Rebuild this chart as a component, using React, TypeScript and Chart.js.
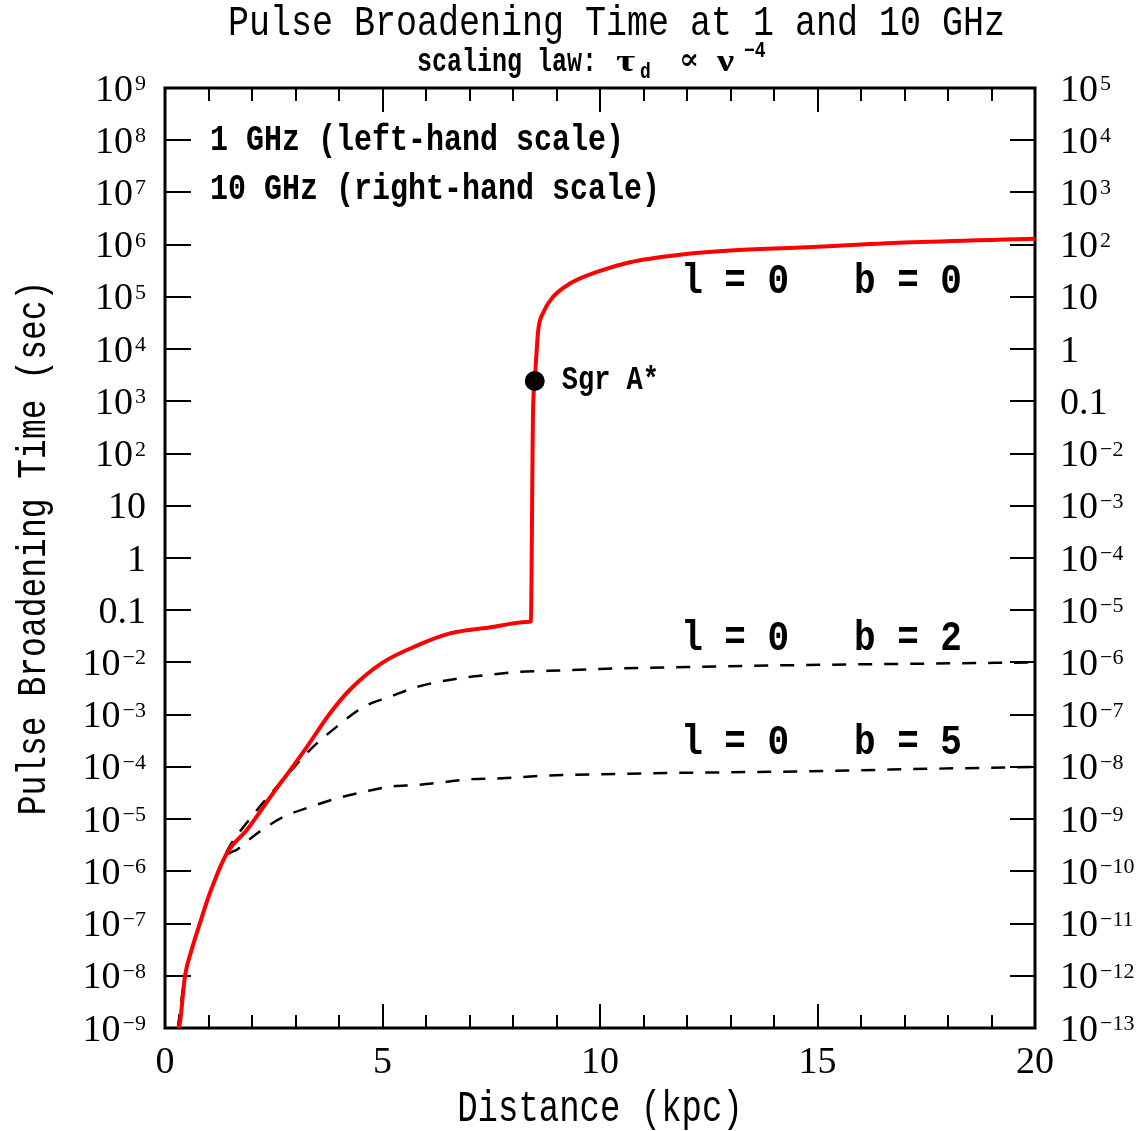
import React, { useEffect, useRef } from "react";
import { Chart, registerables } from "chart.js";

Chart.register(...registerables);

// ---- data (distance in kpc, pulse broadening time in seconds at 1 GHz) ----
const distB0 = [0.30, 0.34, 0.46, 0.61, 0.80, 1.03, 1.42, 1.88, 2.48, 2.87, 3.26, 3.79, 4.25, 5.01, 5.79, 6.55, 7.31, 8.39, 8.41, 8.46, 8.50, 8.53, 8.58, 8.69, 8.92, 9.31, 9.93, 10.69, 11.84, 13.0, 14.6, 17.0, 20.0];
const tauB0 = [1e-9, 1.2e-9, 1.0e-8, 3.1e-8, 1.0e-7, 3.8e-7, 2.2e-6, 6.2e-6, 3.1e-5, 8.5e-5, 2.4e-4, 1.05e-3, 3.0e-3, 1.0e-2, 2.1e-2, 3.6e-2, 4.5e-2, 6.0e-2, 6.2e-2, 6.0e2, 2.45e3, 6.2e3, 2.3e4, 4.9e4, 1.0e5, 1.8e5, 3.0e5, 4.6e5, 6.4e5, 7.7e5, 8.8e5, 1.1e6, 1.3e6];

const distB2 = [0.30, 0.46, 0.61, 0.80, 1.03, 1.42, 1.88, 2.48, 2.87, 3.33, 3.95, 4.56, 5.17, 5.79, 6.32, 6.94, 7.47, 8.10, 8.80, 10.0, 12.0, 14.6, 17.0, 20.0];
const tauB2 = [1e-9, 1.0e-8, 3.1e-8, 1.0e-7, 3.8e-7, 2.4e-6, 8.5e-6, 3.4e-5, 8.0e-5, 2.1e-4, 5.9e-4, 1.4e-3, 2.2e-3, 3.4e-3, 4.3e-3, 5.2e-3, 5.8e-3, 6.6e-3, 6.9e-3, 7.5e-3, 8.2e-3, 8.9e-3, 9.4e-3, 1.0e-2];

const distB5 = [0.30, 0.46, 0.61, 0.80, 1.03, 1.42, 1.65, 2.10, 2.72, 3.33, 3.95, 4.56, 5.17, 5.79, 6.40, 7.00, 7.60, 8.77, 11.0, 14.6, 17.0, 20.0];
const tauB5 = [1e-9, 1.0e-8, 3.1e-8, 1.0e-7, 3.8e-7, 2.0e-6, 2.6e-6, 5.2e-6, 1.1e-5, 1.7e-5, 2.5e-5, 3.3e-5, 4.2e-5, 4.5e-5, 5.1e-5, 5.8e-5, 6.0e-5, 6.8e-5, 7.5e-5, 8.2e-5, 9.0e-5, 1.0e-4];

const sgrDist = [8.5];
const sgrTau = [2.45e3];

// ---- axes / ticks ----
const xMajorTicks = [0, 5, 10, 15, 20];
const xMinorTicks = [1, 2, 3, 4, 6, 7, 8, 9, 11, 12, 13, 14, 16, 17, 18, 19];
const leftExps = [-9, -8, -7, -6, -5, -4, -3, -2, -1, 0, 1, 2, 3, 4, 5, 6, 7, 8, 9];
const rightExps = [-13, -12, -11, -10, -9, -8, -7, -6, -5, -4, -3, -2, -1, 0, 1, 2, 3, 4, 5];

// ---- texts ----
const titleText = "Pulse Broadening Time at 1 and 10 GHz";
const xTitle = "Distance (kpc)";
const yTitle = "Pulse Broadening Time (sec)";
const legendLines = ["1 GHz (left-hand scale)", "10 GHz (right-hand scale)"];
const curveLabels = ["l = 0   b = 0", "l = 0   b = 2", "l = 0   b = 5"];
const curveLabelAnchor = [
  { x: 11.98, y: 1.17e5 },
  { x: 11.98, y: 1.7e-2 },
  { x: 11.98, y: 1.8e-4 },
];
const sgrLabel = "Sgr A*";

const MONO = '"Liberation Mono", "DejaVu Sans Mono", monospace';
const SERIF = '"Liberation Serif", "DejaVu Serif", serif';

function pts(xs: number[], ys: number[]) {
  return xs.map((x, i) => ({ x, y: ys[i] }));
}

function textS(ctx: CanvasRenderingContext2D, t: string, x: number, y: number, sy: number, sx = 1) {
  ctx.save();
  ctx.translate(x, y);
  ctx.scale(sx, sy);
  ctx.fillText(t, 0, 0);
  ctx.restore();
}

function drawLogLabel(ctx: CanvasRenderingContext2D, e: number, x: number, y: number, align: "left" | "right") {
  const base = e === 0 ? "1" : e === 1 ? "10" : e === -1 ? "0.1" : "10";
  const exp = e >= 2 || e <= -2 ? (e < 0 ? "\u2212" + String(-e) : String(e)) : "";
  ctx.font = `38px ${SERIF}`;
  const wb = ctx.measureText(base).width;
  ctx.font = `22px ${SERIF}`;
  const we = exp ? ctx.measureText(exp).width + 2 : 0;
  const total = wb + we;
  const x0 = align === "right" ? x - total : x;
  ctx.textAlign = "left";
  ctx.textBaseline = "alphabetic";
  ctx.font = `38px ${SERIF}`;
  ctx.fillText(base, x0, y + 12.5);
  if (exp) {
    ctx.font = `22px ${SERIF}`;
    ctx.fillText(exp, x0 + wb + 2, y + 2);
  }
}

const framePlugin = {
  id: "framePlugin",
  beforeDatasetsDraw(chart: any) {
    const ctx = chart.ctx as CanvasRenderingContext2D;
    const { left, right, top, bottom } = chart.chartArea;
    const xs = chart.scales.x;
    const ys = chart.scales.y;
    const y2 = chart.scales.y2;
    ctx.save();
    ctx.strokeStyle = "#000";
    ctx.lineWidth = 2;
    ctx.beginPath();
    for (const v of xMajorTicks) {
      const px = Math.round(xs.getPixelForValue(v));
      ctx.moveTo(px, bottom); ctx.lineTo(px, bottom - 24);
      ctx.moveTo(px, top); ctx.lineTo(px, top + 24);
    }
    for (const v of xMinorTicks) {
      const px = Math.round(xs.getPixelForValue(v));
      ctx.moveTo(px, bottom); ctx.lineTo(px, bottom - 13);
      ctx.moveTo(px, top); ctx.lineTo(px, top + 13);
    }
    for (const e of leftExps) {
      const py = Math.round(ys.getPixelForValue(Math.pow(10, e)));
      ctx.moveTo(left, py); ctx.lineTo(left + 26, py);
    }
    for (const e of rightExps) {
      const py = Math.round(y2.getPixelForValue(Math.pow(10, e)));
      ctx.moveTo(right, py); ctx.lineTo(right - 25, py);
    }
    ctx.stroke();
    ctx.lineWidth = 3;
    ctx.strokeRect(left, top, right - left, bottom - top);
    ctx.restore();
  },
  afterDraw(chart: any) {
    const ctx = chart.ctx as CanvasRenderingContext2D;
    const { left, right, bottom } = chart.chartArea;
    const xs = chart.scales.x;
    const ys = chart.scales.y;
    const y2 = chart.scales.y2;
    ctx.save();
    ctx.fillStyle = "#000";

    // tick labels
    for (const e of leftExps) {
      drawLogLabel(ctx, e, left - 19, ys.getPixelForValue(Math.pow(10, e)), "right");
    }
    for (const e of rightExps) {
      drawLogLabel(ctx, e, right + 25, y2.getPixelForValue(Math.pow(10, e)), "left");
    }
    ctx.font = `38px ${SERIF}`;
    ctx.textAlign = "center";
    ctx.textBaseline = "alphabetic";
    for (const v of xMajorTicks) {
      ctx.fillText(String(v), xs.getPixelForValue(v), bottom + 45);
    }

    // title
    ctx.textAlign = "left";
    ctx.font = `35px ${MONO}`;
    textS(ctx, titleText, 228, 35, 1.2);

    // subtitle: scaling law: tau_d ∝ nu^-4
    const sb = 71;
    ctx.font = `bold 25px ${MONO}`;
    textS(ctx, "scaling law:", 417, sb, 1.35);
    ctx.font = `bold 32px ${SERIF}`;
    textS(ctx, "\u03C4", 616, sb, 1.0, 1.3);
    ctx.font = `bold 18px ${MONO}`;
    textS(ctx, "d", 640, sb + 7, 1.2);
    ctx.font = `bold 30px ${SERIF}`;
    textS(ctx, "\u221D", 679, sb - 2, 1.0);
    ctx.font = `bold 32px ${SERIF}`;
    textS(ctx, "\u03BD", 717, sb, 1.0, 1.2);
    ctx.font = `bold 18px ${MONO}`;
    textS(ctx, "\u22124", 744, sb - 14, 1.2);

    // legend texts
    ctx.font = `bold 30px ${MONO}`;
    textS(ctx, legendLines[0], 210, 150, 1.25);
    textS(ctx, legendLines[1], 210, 199, 1.25);

    // curve labels
    ctx.font = `bold 36px ${MONO}`;
    curveLabels.forEach((t, i) => {
      const a = curveLabelAnchor[i];
      textS(ctx, t, xs.getPixelForValue(a.x) - 5, ys.getPixelForValue(a.y), 1.2);
    });

    // Sgr A* label
    ctx.font = `bold 27px ${MONO}`;
    textS(ctx, sgrLabel, xs.getPixelForValue(sgrDist[0]) + 27, ys.getPixelForValue(sgrTau[0]) + 8, 1.2);

    // axis titles
    ctx.font = `34px ${MONO}`;
    ctx.textAlign = "center";
    textS(ctx, xTitle, (left + right) / 2, 1121, 1.3);
    ctx.save();
    ctx.translate(45, 548);
    ctx.rotate(-Math.PI / 2);
    ctx.scale(1, 1.25);
    ctx.font = `33px ${MONO}`;
    ctx.fillText(yTitle, 0, 0);
    ctx.restore();

    ctx.restore();
  },
};

export default function App() {
  const ref = useRef<HTMLCanvasElement | null>(null);
  useEffect(() => {
    if (!ref.current) return;
    const chart = new Chart(ref.current, {
      type: "line",
      data: {
        datasets: [
          {
            label: "Sgr A*",
            type: "scatter" as any,
            data: pts(sgrDist, sgrTau),
            pointRadius: 10,
            pointBackgroundColor: "#000",
            pointBorderColor: "#000",
            borderWidth: 0,
            showLine: false,
            order: 0,
          },
          {
            label: "l = 0 b = 0",
            data: pts(distB0, tauB0),
            borderColor: "#ff0000",
            borderWidth: 4,
            pointRadius: 0,
            cubicInterpolationMode: "monotone",
            fill: false,
            order: 1,
          },
          {
            label: "l = 0 b = 2",
            data: pts(distB2, tauB2),
            borderColor: "#000",
            borderWidth: 2.5,
            borderDash: [14, 12],
            pointRadius: 0,
            cubicInterpolationMode: "monotone",
            fill: false,
            order: 2,
          },
          {
            label: "l = 0 b = 5",
            data: pts(distB5, tauB5),
            borderColor: "#000",
            borderWidth: 2.5,
            borderDash: [14, 12],
            pointRadius: 0,
            cubicInterpolationMode: "monotone",
            fill: false,
            order: 3,
          },
        ],
      },
      options: {
        responsive: false,
        devicePixelRatio: 1,
        animation: false,
        layout: { padding: { top: 88, left: 0, right: 0, bottom: 0 } },
        plugins: {
          legend: { display: false },
          tooltip: { enabled: false },
          title: { display: false },
        },
        scales: {
          x: {
            type: "linear",
            position: "bottom",
            min: 0,
            max: 20,
            grid: { display: false },
            border: { display: false },
            ticks: { display: false },
            afterFit: (s: any) => { s.height = 103; },
          },
          y: {
            type: "logarithmic",
            position: "left",
            min: 1e-9,
            max: 1e9,
            grid: { display: false },
            border: { display: false },
            ticks: { display: false },
            afterBuildTicks: (s: any) => { s.ticks = leftExps.map((e) => ({ value: Math.pow(10, e) })); },
            afterFit: (s: any) => { s.width = 165; },
          },
          y2: {
            type: "logarithmic",
            position: "right",
            min: 1e-13,
            max: 1e5,
            grid: { display: false },
            border: { display: false },
            ticks: { display: false },
            afterBuildTicks: (s: any) => { s.ticks = rightExps.map((e) => ({ value: Math.pow(10, e) })); },
            afterFit: (s: any) => { s.width = 112; },
          },
        },
      } as any,
      plugins: [framePlugin],
    });
    return () => chart.destroy();
  }, []);
  return (
    <div style={{ position: "fixed", left: 0, top: 0, width: 1147, height: 1131, background: "#fff" }}>
      <canvas ref={ref} width={1147} height={1131} style={{ display: "block" }} />
    </div>
  );
}
